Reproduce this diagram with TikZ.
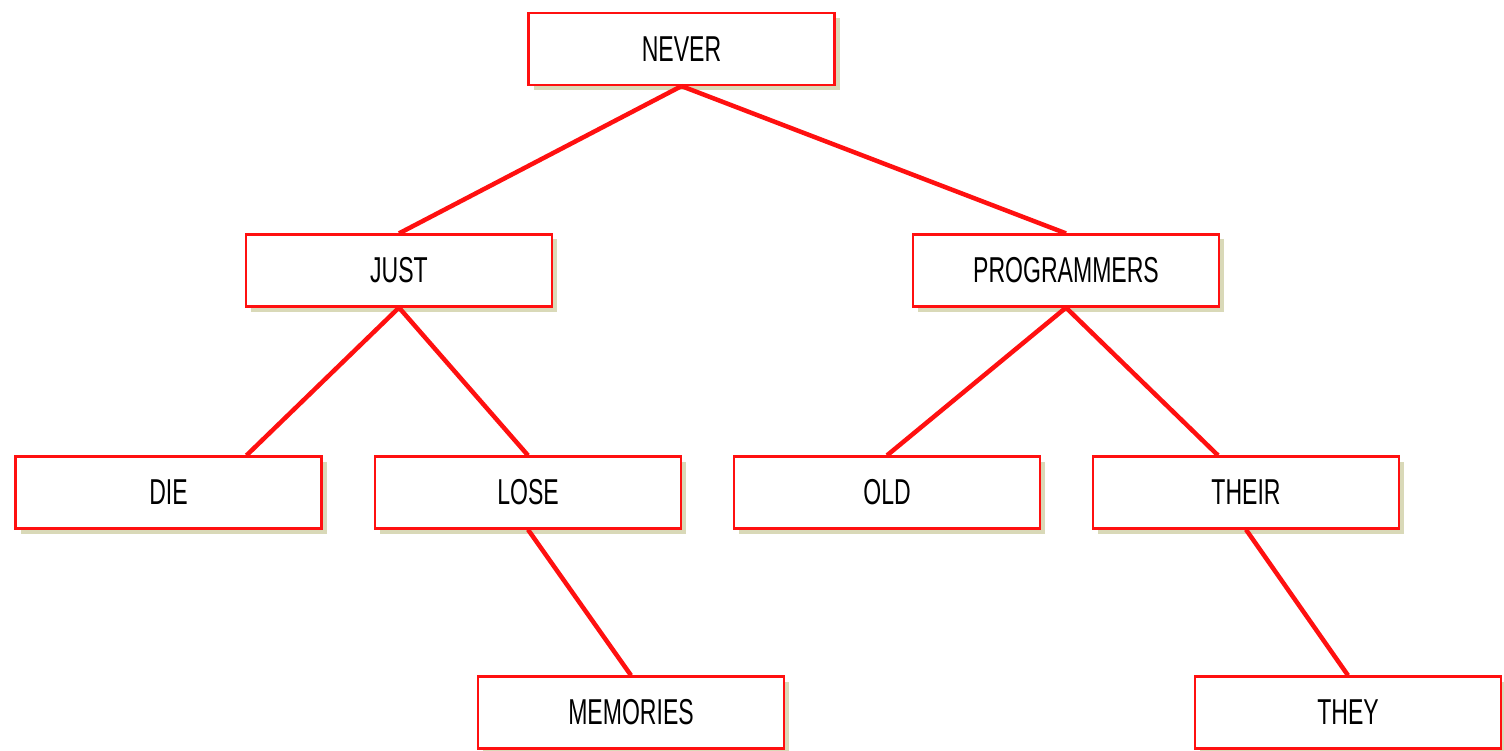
\documentclass[tikz,border=0pt]{standalone}
\usepackage{fontspec}
\setmainfont{Liberation Sans}
\usetikzlibrary{shadows,calc}
\definecolor{treered}{HTML}{FF1010}
\definecolor{boxshadow}{HTML}{D9D9B8}
\tikzset{
  word/.style={draw=treered, line width=2.2pt, fill=white,
    minimum width=306pt, minimum height=72pt, inner sep=0pt,
    font=\fontsize{36}{40}\selectfont,
    drop shadow={shadow xshift=5pt, shadow yshift=-5pt, fill=boxshadow, opacity=1}},
  branch/.style={draw=treered, line width=4.5pt}
}
\newcommand{\lbl}[1]{\scalebox{0.64}[1]{#1}}
\begin{document}
\begin{tikzpicture}[x=1pt,y=-1pt]
  \useasboundingbox[fill=white] (0,0) rectangle (1504,751);
  % box centres
  \coordinate (cNEVER) at (681.5,49);
  \coordinate (cJUST) at (399,270.5);
  \coordinate (cPROG) at (1066,270.5);
  \coordinate (cDIE) at (168.5,492.5);
  \coordinate (cLOSE) at (528,492.5);
  \coordinate (cOLD) at (887,492.5);
  \coordinate (cTHEIR) at (1246,492.5);
  \coordinate (cMEM) at (631,712.5);
  \coordinate (cTHEY) at (1348,712.5);

  \node[word] (never) at (cNEVER) {\lbl{NEVER}};
  \node[word] (just) at (cJUST) {\lbl{JUST}};
  \node[word] (prog) at (cPROG) {\lbl{PROGRAMMERS}};
  \node[word] (die) at (cDIE) {\lbl{DIE}};
  \node[word] (lose) at (cLOSE) {\lbl{LOSE}};
  \node[word] (old) at (cOLD) {\lbl{OLD}};
  \node[word] (their) at (cTHEIR) {\lbl{THEIR}};
  \node[word] (mem) at (cMEM) {\lbl{MEMORIES}};
  \node[word] (they) at (cTHEY) {\lbl{THEY}};

  \draw[branch] (never.south) -- (just.north);
  \draw[branch] (never.south) -- (prog.north);
  \draw[branch] (just.south) -- ($(die.north)+(78,0)$);
  \draw[branch] (just.south) -- (lose.north);
  \draw[branch] (prog.south) -- (old.north);
  \draw[branch] (prog.south) -- ($(their.north)+(-28,0)$);
  \draw[branch] (lose.south) -- (mem.north);
  \draw[branch] (their.south) -- (they.north);
\end{tikzpicture}
\end{document}
